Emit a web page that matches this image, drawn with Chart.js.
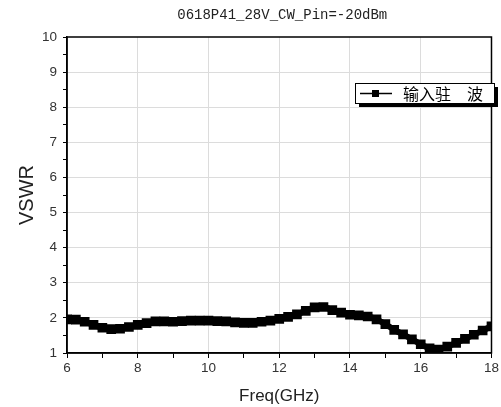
<!DOCTYPE html>
<html>
<head>
<meta charset="utf-8">
<script src="https://cdn.jsdelivr.net/npm/chart.js@4/dist/chart.umd.min.js"></script>
<style>
html,body{margin:0;padding:0;background:#fff;}
#wrap{width:501px;height:407px;position:relative;}
</style>
</head>
<body>
<div id="wrap"><canvas id="c" width="501" height="407"></canvas></div>
<script>
const titleText = '0618P41_28V_CW_Pin=-20dBm';
const seriesLabel = '输入驻　波';
const xTitle = 'Freq(GHz)';
const yTitle = 'VSWR';
const freq = [6.0,6.25,6.5,6.75,7.0,7.25,7.5,7.75,8.0,8.25,8.5,8.75,9.0,9.25,9.5,9.75,10.0,10.25,10.5,10.75,11.0,11.25,11.5,11.75,12.0,12.25,12.5,12.75,13.0,13.25,13.5,13.75,14.0,14.25,14.5,14.75,15.0,15.25,15.5,15.75,16.0,16.25,16.5,16.75,17.0,17.25,17.5,17.75,18.0];
const vswr = [1.96,1.95,1.89,1.80,1.72,1.68,1.69,1.74,1.80,1.85,1.90,1.90,1.89,1.91,1.92,1.92,1.92,1.91,1.90,1.87,1.86,1.86,1.89,1.92,1.97,2.03,2.10,2.20,2.30,2.31,2.22,2.15,2.09,2.07,2.04,1.96,1.82,1.66,1.53,1.39,1.25,1.13,1.10,1.18,1.29,1.40,1.52,1.64,1.76];

const points = freq.map((f,i)=>({x:f,y:vswr[i]}));

const framePlugin = {
  id:'frame',
  afterDatasetsDraw(chart){
    const {ctx, chartArea:a} = chart;
    ctx.save();
    ctx.strokeStyle='#000';
    ctx.lineWidth=1.5;
    ctx.strokeRect(a.left, a.top, a.right-a.left, a.bottom-a.top);
    ctx.restore();
  },
  afterDraw(chart){
    const {ctx, chartArea:a} = chart;
    const ds = chart.data.datasets[0];
    ctx.save();
    ctx.fillStyle='#222';
    ctx.font='14px "Liberation Mono"';
    ctx.textAlign='center';
    ctx.textBaseline='middle';
    ctx.fillText(titleText, (a.left+a.right)/2 + 3, 15);
    const bx=355, by=83, bw=139, bh=20;
    ctx.fillStyle='#000';
    ctx.fillRect(bx+4, by+4, bw, bh);
    ctx.fillStyle='#fff';
    ctx.fillRect(bx, by, bw, bh);
    ctx.strokeStyle='#000';
    ctx.lineWidth=1;
    ctx.strokeRect(bx+0.5, by+0.5, bw, bh);
    const cy = by+bh/2+0.5;
    ctx.lineWidth=1.5;
    ctx.beginPath(); ctx.moveTo(bx+5, cy); ctx.lineTo(bx+37, cy); ctx.stroke();
    ctx.fillStyle='#000';
    ctx.fillRect(bx+17, cy-3.5, 7, 7);
    ctx.font='16px "Noto Sans CJK SC"';
    ctx.textAlign='left';
    ctx.fillText(ds.label, bx+48, cy);
    ctx.restore();
  }
};

new Chart(document.getElementById('c'), {
  type:'line',
  data:{datasets:[{
    label: seriesLabel,
    data: points,
    borderColor:'#000',
    backgroundColor:'#000',
    borderWidth:6,
    pointStyle:'rect',
    pointRadius:2.6,
    pointHoverRadius:2.6,
    cubicInterpolationMode:'monotone'
  }]},
  options:{
    responsive:false,
    animation:false,
    devicePixelRatio:1,
    layout:{padding:{top:37,right:9,left:15,bottom:0}},
    plugins:{
      legend:{display:false},
      tooltip:{enabled:false},
      title:{display:false}
    },
    scales:{
      x:{
        type:'linear', min:6, max:18,
        afterFit(s){ s.height = 54; },
        border:{color:'#000',width:1.5},
        grid:{
          color:(c)=>{const v=c.tick&&c.tick.value; return (v%2===0 && v>6 && v<18)?'#dcdcdc':'rgba(0,0,0,0)';},
          tickColor:'#000', tickLength:5, lineWidth:1, drawOnChartArea:true
        },
        ticks:{stepSize:1, autoSkip:false, maxRotation:0, color:'#333', padding:2,
          font:{family:'"Liberation Sans"',size:13.5},
          callback:(v)=> (v%2===0)? String(v) : ''},
        title:{display:true,text:xTitle,color:'#222',font:{family:'"Liberation Sans"',size:17},padding:{top:4,bottom:0}}
      },
      y:{
        type:'linear', min:1, max:10,
        afterFit(s){ s.width = 52; },
        border:{color:'#000',width:1.5},
        grid:{
          color:(c)=>{const v=c.tick&&c.tick.value; return (Number.isInteger(v) && v>1 && v<10)?'#dcdcdc':'rgba(0,0,0,0)';},
          tickColor:'#000', tickLength:4, lineWidth:1
        },
        ticks:{stepSize:0.5, autoSkip:false, color:'#333', padding:6,
          font:{family:'"Liberation Sans"',size:13.5},
          callback:(v)=> Number.isInteger(v)? String(v) : ''},
        title:{display:true,text:yTitle,color:'#222',font:{family:'"Liberation Sans"',size:20},padding:{top:0,bottom:4}}
      }
    }
  },
  plugins:[framePlugin]
});
</script>
</body>
</html>
